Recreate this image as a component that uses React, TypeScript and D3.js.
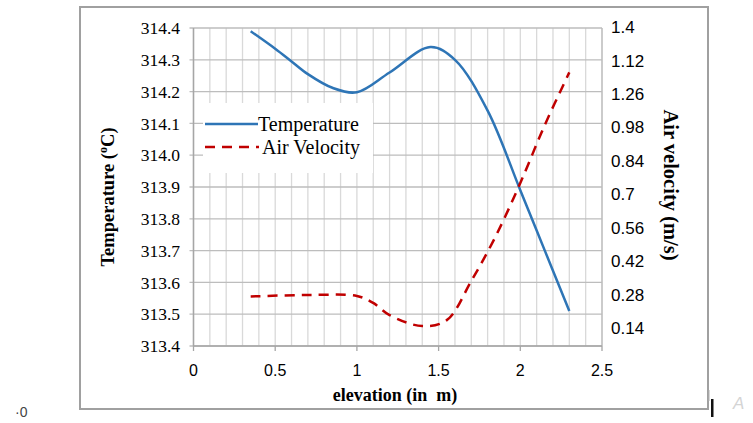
import React from "react";
import * as d3 from "d3";

// values
const elevationT = [0.35, 0.5, 0.6, 0.7, 0.85, 1.0, 1.2, 1.45, 1.6, 1.8, 2.0, 2.15, 2.3];
const temperature = [314.39, 314.335, 314.295, 314.255, 314.212, 314.198, 314.26, 314.34, 314.3, 314.14, 313.89, 313.7, 313.51];
const elevationV = [0.35, 0.7, 1.0, 1.1, 1.2, 1.4, 1.55, 1.7, 1.85, 2.0, 2.15, 2.3];
const airVelocity = [0.272, 0.278, 0.274, 0.245, 0.194, 0.148, 0.173, 0.337, 0.525, 0.747, 0.99, 1.21];

const xTicks = [0, 0.5, 1, 1.5, 2, 2.5];
const tempTicks = [313.4, 313.5, 313.6, 313.7, 313.8, 313.9, 314.0, 314.1, 314.2, 314.3, 314.4];
// right axis labels, bottom to top, as printed (1.26 / 1.12 swapped in the original)
const velocityLabels = ["0.14", "0.28", "0.42", "0.56", "0.7", "0.84", "0.98", "1.26", "1.12", "1.4"];

const width = 753;
const height = 423;

const x = d3.scaleLinear().domain([0, 2.5]).range([193.5, 602]);
const yT = d3.scaleLinear().domain([313.4, 314.4]).range([346, 28]);
const yV = d3.scaleLinear().domain([0.14, 1.4]).range([328, 27]);
const yLab = d3.scalePoint<string>().domain(velocityLabels).range([328, 27]);

const blue = "#2E75B6";
const red = "#C00000";
const serif = "'Liberation Serif', 'Times New Roman', serif";
const sans = "'Liberation Sans', Arial, sans-serif";

export default function App() {
  const tempLine = d3
    .line<number>()
    .x((d, i) => x(elevationT[i]))
    .y((d) => yT(d))
    .curve(d3.curveCatmullRom.alpha(0.5));
  const velLine = d3
    .line<number>()
    .x((d, i) => x(elevationV[i]))
    .y((d) => yV(d))
    .curve(d3.curveCatmullRom.alpha(0.5));

  const [x0, x1] = x.range();
  const [yb, yt] = yT.range();

  return (
    <svg
      width={width}
      height={height}
      style={{ position: "absolute", left: 0, top: 0, background: "#fff" }}
    >
      {/* outer frame */}
      <rect x={80} y={7} width={628} height={402} fill="#fff" stroke="#a0a0a0" strokeWidth={2} />

      {/* grid */}
      {x.ticks(25).map((t, i) => (
        <line key={"v" + i} x1={x(t)} x2={x(t)} y1={yt} y2={yb} stroke="#d9d9d9" strokeWidth={1.3} />
      ))}
      {tempTicks.map((t) => (
        <line key={"h" + t} x1={x0 - 4} x2={x1} y1={yT(t)} y2={yT(t)} stroke="#bdbdbd" strokeWidth={1.3} />
      ))}
      <line x1={x0} x2={x0} y1={yt} y2={yb} stroke="#a6a6a6" strokeWidth={1.5} />
      <line x1={x1} x2={x1} y1={yt} y2={yb} stroke="#bdbdbd" strokeWidth={1.3} />
      <line x1={x0} x2={x1} y1={yb} y2={yb} stroke="#a6a6a6" strokeWidth={1.5} />
      {xTicks.map((t) => (
        <line key={"xt" + t} x1={x(t)} x2={x(t)} y1={yb} y2={yb + 5} stroke="#a6a6a6" strokeWidth={1.3} />
      ))}

      {/* legend background */}
      <rect x={203} y={103} width={170} height={70} fill="#fff" />

      {/* series */}
      <path d={tempLine(temperature) || ""} fill="none" stroke={blue} strokeWidth={2.5} />
      <path d={velLine(airVelocity) || ""} fill="none" stroke={red} strokeWidth={2.5} strokeDasharray="10,7" />

      {/* legend */}
      <line x1={205} x2={258} y1={124} y2={124} stroke={blue} strokeWidth={2.5} />
      <text x={258} y={131} fontFamily={serif} fontSize={20} fill="#000">Temperature</text>
      <line x1={205} x2={259} y1={147} y2={147} stroke={red} strokeWidth={2.5} strokeDasharray="10,7" />
      <text x={262} y={154} fontFamily={serif} fontSize={20} fill="#000">Air Velocity</text>

      {/* left tick labels */}
      {tempTicks.map((t) => (
        <text key={"lt" + t} x={180} y={yT(t)} dy="0.35em" textAnchor="end" fontFamily={serif} fontSize={17.5} fill="#000">
          {t.toFixed(1)}
        </text>
      ))}
      {/* right tick labels */}
      {velocityLabels.map((l) => (
        <text key={"rt" + l} x={611} y={yLab(l)} dy="0.36em" fontFamily={sans} fontSize={17} fill="#000">
          {l}
        </text>
      ))}
      {/* x tick labels */}
      {xTicks.map((t) => (
        <text key={"xl" + t} x={x(t)} y={370} dy="0.36em" textAnchor="middle" fontFamily={sans} fontSize={16} fill="#000">
          {t}
        </text>
      ))}

      {/* axis titles */}
      <text x={395} y={401} textAnchor="middle" fontFamily={serif} fontWeight="bold" fontSize={18} fill="#000">
        elevation (in{"\u00a0\u00a0"}m)
      </text>
      <text
        transform="translate(114,197) rotate(-90)"
        textAnchor="middle"
        fontFamily={serif}
        fontWeight="bold"
        fontSize={18.5}
        fill="#000"
      >
        Temperature (<tspan fontSize={12} dy="-7">o</tspan><tspan dy="7">C)</tspan>
      </text>
      <text
        transform="translate(664,185) rotate(90)"
        textAnchor="middle"
        fontFamily={serif}
        fontWeight="bold"
        fontSize={20.5}
        fill="#000"
      >
        Air velocity (m/s)
      </text>

      {/* stray marks at the edges of the screenshot */}
      <text x={15} y={417} fontFamily={sans} fontSize={14} fill="#444">·0</text>
      <line x1={709} x2={709} y1={390} y2={401} stroke="#b0b0b0" strokeWidth={1} />
      <rect x={711} y={399} width={2.5} height={18} fill="#111" />
      <text x={733} y={409} fontFamily={sans} fontStyle="italic" fontSize={17} fill="#d4d4d4">A</text>
    </svg>
  );
}
